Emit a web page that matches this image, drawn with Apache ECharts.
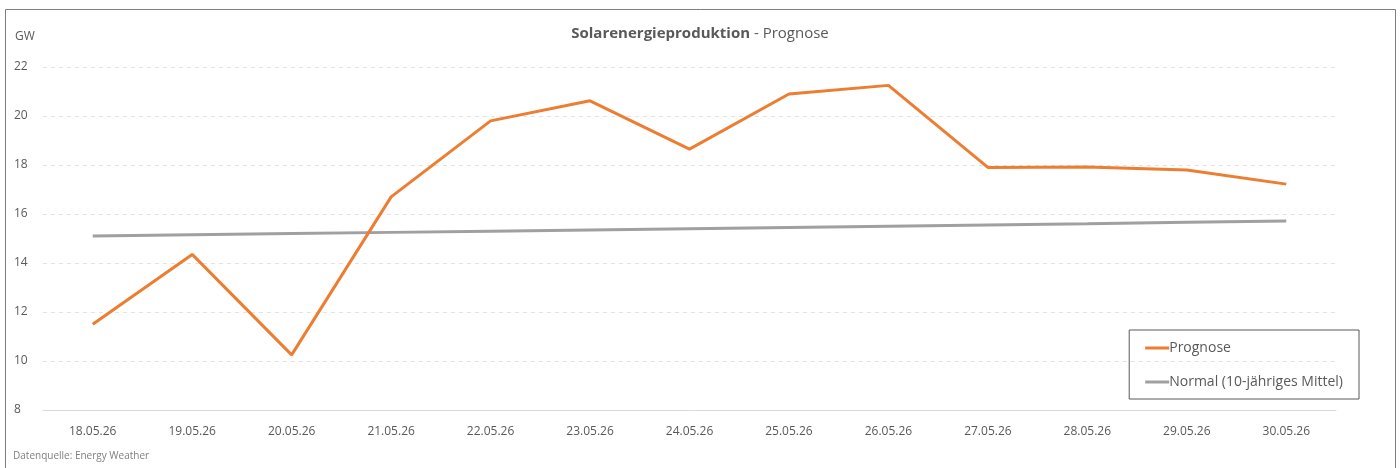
<!DOCTYPE html>
<html><head><meta charset="utf-8">
<script src="https://cdn.jsdelivr.net/npm/echarts@6/dist/echarts.min.js"></script>
<style>html,body{margin:0;padding:0;background:#fff;}#c{width:1400px;height:468px;}</style>
</head><body><div id="c"></div>
<script>
const categories = ['18.05.26','19.05.26','20.05.26','21.05.26','22.05.26','23.05.26','24.05.26','25.05.26','26.05.26','27.05.26','28.05.26','29.05.26','30.05.26'];
const prognose = [11.5, 14.35, 10.25, 16.7, 19.8, 20.62, 18.65, 20.9, 21.25, 17.9, 17.92, 17.8, 17.22];
const normal = [15.1, 15.15, 15.2, 15.25, 15.3, 15.35, 15.4, 15.45, 15.5, 15.55, 15.6, 15.66, 15.71];
const seriesNames = ['Prognose', 'Normal (10-jähriges Mittel)'];
const titleMain = 'Solarenergieproduktion';
const titleSub = 'Prognose';
const yUnit = 'GW';
const source = 'Datenquelle: Energy Weather';

const FONT = '"Open Sans", "Noto Sans", sans-serif';
const chart = echarts.init(document.getElementById('c'));
chart.setOption({
  animation: false,
  textStyle: { fontFamily: FONT },
  title: {
    text: '{b|' + titleMain + '}{n| - ' + titleSub + '}',
    left: 'center', top: 21,
    textStyle: { rich: {
      b: { fontFamily: FONT, fontWeight: 'bold', fontSize: 15, color: '#595959' },
      n: { fontFamily: FONT, fontWeight: 'normal', fontSize: 15, color: '#595959' }
    } }
  },
  graphic: [
    { type: 'rect', shape: { x: 5.5, y: 9.5, width: 1390, height: 480 }, style: { fill: 'none', stroke: '#7f7f7f', lineWidth: 1 }, silent: true },
    { type: 'text', left: 13, top: 451, style: { text: source, font: '10px ' + FONT, fill: '#7f7f7f' } },
    { type: 'text', left: 15, top: 31, style: { text: yUnit, font: '12px ' + FONT, fill: '#595959' } }
  ],
  legend: {
    orient: 'vertical', right: 41, bottom: 69,
    padding: [9, 16, 8, 16], itemGap: 16,
    borderColor: '#595959', borderWidth: 1,
    itemWidth: 24, itemHeight: 3,
    icon: 'rect',
    textStyle: { fontSize: 14, color: '#595959', fontFamily: FONT, padding: [0, 0, 0, -5], lineHeight: 18 },
    data: seriesNames
  },
  grid: { left: 43, right: 64, top: 67, bottom: 58 },
  xAxis: {
    type: 'category', data: categories, boundaryGap: true,
    axisLine: { lineStyle: { color: '#d9d9d9' } },
    axisTick: { show: false },
    axisLabel: { color: '#595959', fontSize: 12, margin: 16 }
  },
  yAxis: {
    type: 'value', min: 8, max: 22, interval: 2,
    axisLine: { show: false }, axisTick: { show: false },
    axisLabel: { color: '#595959', fontSize: 12, align: 'left', margin: 29 },
    splitLine: { lineStyle: { color: '#e3e3e3', type: [4, 4] } }
  },
  series: [
    { name: seriesNames[0], type: 'line', data: prognose, symbol: 'none', lineStyle: { color: '#ED7D31', width: 3 }, itemStyle: { color: '#ED7D31' } },
    { name: seriesNames[1], type: 'line', data: normal, symbol: 'none', lineStyle: { color: '#A0A0A0', width: 3 }, itemStyle: { color: '#A0A0A0' }, z: 1 }
  ]
});
</script></body></html>
